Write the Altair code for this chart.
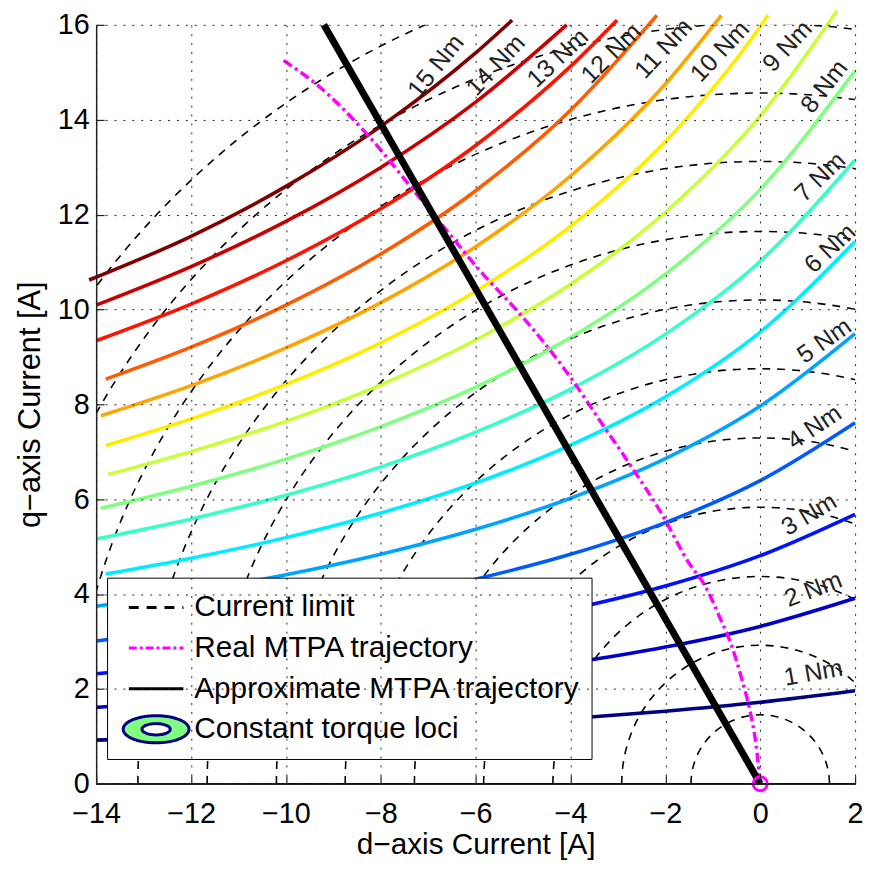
import altair as alt
import pandas as pd

# ---------------- values ----------------
d_ticks = [-14, -12, -10, -8, -6, -4, -2, 0, 2]
q_ticks = [0, 2, 4, 6, 8, 10, 12, 14, 16]

# current-limit circles (centred on the origin)
limit_radii = [1.46, 2.92, 4.37, 5.83, 7.29, 8.75, 10.2, 11.66, 13.12, 14.58, 16.03, 17.49]
limit_center_d = 0.0
limit_center_q = 0.0

torque_levels = list(range(1, 16))
torque_colors = ["#000080", "#0000c8", "#0012ff", "#005bff", "#00a4ff",
                 "#00edff", "#37ffc8", "#80ff80", "#c8ff37", "#ffed00",
                 "#ffa400", "#ff5b00", "#ff1200", "#c80000", "#800000"]

# constant torque loci (d, q) for each torque level
locus_01 = [(-14, 0.92), (-12, 0.985), (-10, 1.061), (-8, 1.149), (-6, 1.252), (-4, 1.376), (-2, 1.528), (0, 1.717), (2, 1.96)]
locus_02 = [(-14, 1.61), (-12, 1.738), (-10, 1.888), (-8, 2.066), (-6, 2.281), (-4, 2.546), (-2, 2.881), (0, 3.317), (2, 3.91)]
locus_03 = [(-14, 2.32), (-12, 2.505), (-10, 2.723), (-8, 2.981), (-6, 3.294), (-4, 3.680), (-2, 4.168), (0, 4.808), (2, 5.68)]
locus_04 = [(-14, 3.01), (-12, 3.256), (-10, 3.546), (-8, 3.892), (-6, 4.314), (-4, 4.838), (-2, 5.507), (0, 6.390), (2, 7.61)]
locus_05 = [(-14, 3.74), (-12, 4.047), (-10, 4.407), (-8, 4.840), (-6, 5.365), (-4, 6.020), (-2, 6.854), (0, 7.962), (2, 9.49)]
locus_06 = [(-13.8, 4.42), (-12, 4.755), (-10, 5.189), (-8, 5.708), (-6, 6.341), (-4, 7.138), (-2, 8.157), (0, 9.524), (2, 11.43)]
locus_07 = [(-14, 5.16), (-12, 5.584), (-10, 6.083), (-8, 6.680), (-6, 7.413), (-4, 8.319), (-2, 9.479), (0, 11.017), (2, 13.15)]
locus_08 = [(-13.9, 5.81), (-12, 6.274), (-10, 6.845), (-8, 7.530), (-6, 8.361), (-4, 9.407), (-2, 10.745), (0, 12.531), (2, 15.03)]
locus_09 = [(-13.75, 6.52), (-12, 7.003), (-10, 7.640), (-8, 8.411), (-6, 9.355), (-4, 10.531), (-2, 12.049), (0, 14.079), (1.62, 16.3)]
locus_10 = [(-13.8, 7.13), (-12, 7.692), (-10, 8.418), (-8, 9.296), (-6, 10.384), (-4, 11.754), (-2, 13.541), (0, 15.967), (0.16, 16.2)]
locus_11 = [(-13.9, 7.76), (-12, 8.395), (-10, 9.188), (-8, 10.144), (-6, 11.323), (-4, 12.813), (-2, 14.753), (-0.82, 16.2)]
locus_12 = [(-13.8, 8.53), (-12, 9.205), (-10, 10.092), (-8, 11.168), (-6, 12.503), (-4, 14.199), (-2.18, 16.2)]
locus_13 = [(-14, 9.34), (-12, 10.112), (-10, 11.026), (-8, 12.121), (-6, 13.457), (-4, 15.124), (-3.02, 16.1)]
locus_14 = [(-14, 10.09), (-12, 10.902), (-10, 11.856), (-8, 12.993), (-6, 14.371), (-4.08, 16.0)]
locus_15 = [(-14.15, 10.62), (-12, 11.541), (-10, 12.594), (-8, 13.86), (-6, 15.408), (-5.23, 16.1)]

# MTPA trajectories (d, q)
mtpa_real = [(0.0, 0.0), (-0.09, 0.84), (-0.22, 1.55), (-0.4, 2.25), (-0.6, 2.9), (-0.85, 3.5),
             (-1.15, 4.15), (-1.5, 4.65), (-2.1, 5.73), (-2.72, 6.69), (-3.35, 7.61), (-3.91, 8.44),
             (-4.54, 9.28), (-5.15, 10.0), (-5.85, 10.75), (-6.6, 11.65), (-7.3, 12.5),
             (-8.25, 13.65), (-9.3, 14.7), (-10.05, 15.25)]
mtpa_approx = [(0.0, 0.0), (-9.2, 16.0)]

# torque labels: position (d, q) and tilt in degrees
label_text = [f"{t} Nm" for t in torque_levels]
label_d = [1.12, 1.12, 1.03, 1.14, 1.35, 1.47, 1.26, 1.35, 0.57, -0.85, -2.04, -3.14, -4.27, -5.58, -6.84]
label_q = [2.34, 4.10, 5.68, 7.52, 9.34, 11.29, 12.79, 14.70, 15.55, 15.44, 15.50, 15.40, 15.30, 15.15, 15.13]
label_tilt = [10, 21, 31, 34, 35, 43, 44, 52, 47, 47, 47, 45, 43, 47, 51]

legend_names = ["Current limit", "Real MTPA trajectory", "Approximate MTPA trajectory", "Constant torque loci"]
legend_colors = ["black", "#ff00ff", "black", "#000080"]

# ---------------- styles ----------------
FONT = "Liberation Sans"
line_path = "M-1.45,0L1.45,0"
ellipse_path = ("M-1.75,0A1.75,0.72 0 1,1 1.75,0A1.75,0.72 0 1,1 -1.75,0Z"
                "M-0.75,0A0.75,0.3 0 1,0 0.75,0A0.75,0.3 0 1,0 -0.75,0Z")
legend_shapes = [line_path, line_path, line_path, ellipse_path]
legend_dashes = [[10, 8], [8, 3, 3, 3], [1, 0], [1, 0]]

# ---------------- tables ----------------
loci = [locus_01, locus_02, locus_03, locus_04, locus_05, locus_06, locus_07, locus_08,
        locus_09, locus_10, locus_11, locus_12, locus_13, locus_14, locus_15]
torque_df = pd.DataFrame([{"T": t, "d": d, "q": q, "i": i}
                          for t, pts in zip(torque_levels, loci)
                          for i, (d, q) in enumerate(pts)])
circle_df = pd.DataFrame({"r": limit_radii, "d": limit_center_d, "q": limit_center_q})
real_df = pd.DataFrame(mtpa_real, columns=["d", "q"])
approx_df = pd.DataFrame(mtpa_approx, columns=["d", "q"])
origin_df = real_df.iloc[[0]]
label_df = pd.DataFrame({"d": label_d, "q": label_q, "txt": label_text,
                         "ang": [360 - a for a in label_tilt]})
legend_df = pd.DataFrame({"series": legend_names})

x_scale = alt.Scale(domain=[-14, 2], nice=False, zero=False)
y_scale = alt.Scale(domain=[0, 16], nice=False, zero=False)

x_axis = alt.Axis(values=d_ticks, title="d−axis Current [A]", grid=True, labelFlush=False,
                  labelOverlap=False, tickSize=alt.ExprRef(expr="-8"), labelPadding=24,
                  titleFontSize=30, titleX=383, titleY=70.5, titleBaseline="alphabetic",
                  titleAlign="center", zindex=1)
y_axis = alt.Axis(values=q_ticks, title="q−axis Current [A]", grid=True, labelFlush=False,
                  labelOverlap=False, tickSize=alt.ExprRef(expr="-8"), labelPadding=15,
                  titleFontSize=31, titleX=-66, titleY=383, titleAngle=270, titleBaseline="middle",
                  titleAlign="center", zindex=1)


def X():
    return alt.X("d:Q", scale=x_scale, axis=x_axis)


def Y():
    return alt.Y("q:Q", scale=y_scale, axis=y_axis)


arcs = alt.Chart(circle_df).mark_arc(
    theta=4.71238898, theta2=7.85398163, filled=False, stroke="black",
    strokeWidth=1.6, strokeDash=[8, 7], clip=True
).encode(
    x=X(), y=Y(),
    radius=alt.Radius("r:Q", stack=False,
                      scale=alt.Scale(type="linear", domain=[0, 16], range=[0, 766])),
)

torque = alt.Chart(torque_df).mark_line(strokeWidth=3.6, interpolate="monotone").encode(
    x=X(), y=Y(),
    stroke=alt.Stroke("T:O", scale=alt.Scale(domain=torque_levels, range=torque_colors), legend=None),
    detail="T:O",
    order="i:Q",
)

real = alt.Chart(real_df).mark_line(color="#ff00ff", strokeWidth=3.5, strokeDash=[10, 4, 3, 4],
                                    interpolate="monotone").encode(x=X(), y=Y())

approx = alt.Chart(approx_df).mark_line(color="black", strokeWidth=7).encode(x=X(), y=Y())

origin = alt.Chart(origin_df).mark_point(shape="circle", size=200, filled=False, stroke="#ff00ff",
                                         strokeWidth=3, opacity=1).encode(x=X(), y=Y())

labels = alt.Chart(label_df).mark_text(fontSize=25, font=FONT, color="#222222").encode(
    x=X(), y=Y(), text="txt:N", angle=alt.Angle("ang:Q", scale=None)
)

leg = alt.Legend(title=None, orient="none", legendX=11, legendY=558, padding=11,
                 fillColor="white", strokeColor="black", cornerRadius=0,
                 symbolSize=1444, symbolStrokeWidth=3, symbolOffset=18, labelOffset=18,
                 labelFontSize=30, labelFont=FONT, labelColor="black", labelLimit=600,
                 clipHeight=38, rowPadding=3, symbolOpacity=1)

legend_layer = alt.Chart(legend_df).mark_point(filled=False, fill="#80ff80").encode(
    color=alt.Color("series:N", scale=alt.Scale(domain=legend_names, range=legend_colors), legend=leg),
    shape=alt.Shape("series:N", scale=alt.Scale(domain=legend_names, range=legend_shapes), legend=leg),
    strokeDash=alt.StrokeDash("series:N", scale=alt.Scale(domain=legend_names, range=legend_dashes), legend=leg),
).transform_filter("false")

chart = alt.layer(arcs, torque, real, approx, origin, labels, legend_layer).properties(
    width=766, height=766,
    padding={"left": 89, "top": 13, "right": 9, "bottom": 77},
    autosize=alt.AutoSizeParams(type="none"),
).configure_view(strokeWidth=0).configure_axis(
    labelFont=FONT, titleFont=FONT, labelFontSize=29,
    titleFontWeight="normal", labelColor="black", titleColor="black",
    domainColor="#222222", domainWidth=1.5, tickColor="#222222", tickWidth=1.2,
    gridColor="#222222", gridDash=[2, 7], gridWidth=1, gridOpacity=1,
)

chart.save("out.html", embed_options={"renderer": "svg", "actions": False})
